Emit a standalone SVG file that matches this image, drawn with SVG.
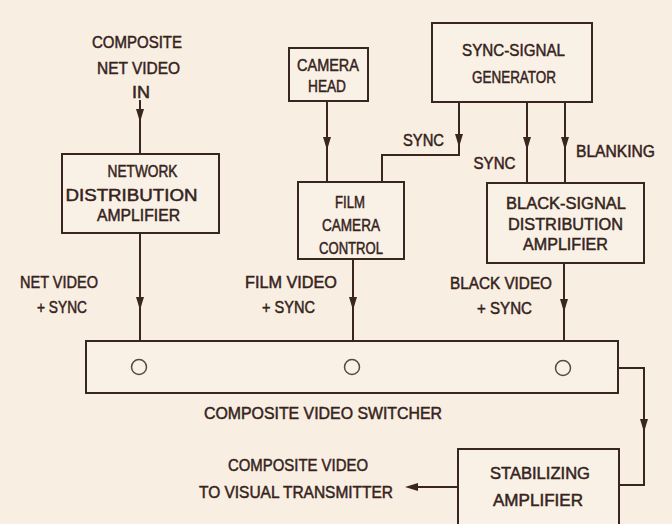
<svg xmlns="http://www.w3.org/2000/svg" xmlns:xlink="http://www.w3.org/1999/xlink" width="672" height="524" viewBox="0 0 672 524">
<style>
.bg{fill:#f9eee2}
.box{fill:#faf1e6;stroke:#3a2620;stroke-width:2}
.ln{fill:none;stroke:#3a2620;stroke-width:2}
.ah{fill:#3a2620}
.sw{fill:none;stroke:#5a463e;stroke-width:1.5}
text{font-family:"Liberation Sans",Arial,sans-serif;font-size:17px;fill:#35231c;stroke:#35231c;stroke-width:0.5;text-anchor:middle}
</style>
<defs>
<path id="ah" class="ah" d="M-4,-13 L4,-13 L0,0 Z"/>
</defs>
<rect class="bg" x="0" y="0" width="672" height="524"/>

<g id="connectors">
<path class="ln" d="M140,100 V154"/>
<use xlink:href="#ah" x="140" y="122"/>
<path class="ln" d="M140,233 V341"/>
<use xlink:href="#ah" x="140" y="310"/>
<path class="ln" d="M327,101 V182"/>
<use xlink:href="#ah" x="327" y="150"/>
<path class="ln" d="M459,102 V155 H382 V182"/>
<use xlink:href="#ah" x="459" y="147"/>
<path class="ln" d="M527,102 V183"/>
<use xlink:href="#ah" x="527" y="150"/>
<path class="ln" d="M565,102 V183"/>
<use xlink:href="#ah" x="565" y="150"/>
<path class="ln" d="M353,259 V341"/>
<use xlink:href="#ah" x="353" y="310"/>
<path class="ln" d="M564,263 V341"/>
<use xlink:href="#ah" x="564" y="312"/>
<path class="ln" d="M618,368 H644 V485 H619"/>
<use xlink:href="#ah" x="644" y="432"/>
<path class="ln" d="M458,487 H412"/>
<use xlink:href="#ah" transform="translate(405,487) rotate(90)"/>
</g>

<g id="input-label">
<text x="137" y="48" textLength="90" lengthAdjust="spacingAndGlyphs">COMPOSITE</text>
<text x="138.5" y="74" textLength="83" lengthAdjust="spacingAndGlyphs">NET VIDEO</text>
<text x="141" y="98" textLength="18" lengthAdjust="spacingAndGlyphs">IN</text>
</g>

<g id="network-da">
<rect class="box" x="62" y="154" width="157" height="79"/>
<text x="142.5" y="177" textLength="70" lengthAdjust="spacingAndGlyphs">NETWORK</text>
<text x="131.5" y="201" textLength="132" lengthAdjust="spacingAndGlyphs">DISTRIBUTION</text>
<text x="138.5" y="221" textLength="83" lengthAdjust="spacingAndGlyphs">AMPLIFIER</text>
</g>

<g id="camera-head">
<rect class="box" x="289" y="48" width="79" height="53"/>
<text x="328" y="71" textLength="62" lengthAdjust="spacingAndGlyphs">CAMERA</text>
<text x="327" y="92" textLength="38" lengthAdjust="spacingAndGlyphs">HEAD</text>
</g>

<g id="sync-generator">
<rect class="box" x="432" y="23" width="160" height="79"/>
<text x="513.5" y="56" textLength="103" lengthAdjust="spacingAndGlyphs">SYNC-SIGNAL</text>
<text x="514" y="83" textLength="84" lengthAdjust="spacingAndGlyphs">GENERATOR</text>
</g>

<g id="film-camera-control">
<rect class="box" x="298" y="182" width="106" height="77"/>
<text x="350" y="208" textLength="30" lengthAdjust="spacingAndGlyphs">FILM</text>
<text x="351" y="231" textLength="58" lengthAdjust="spacingAndGlyphs">CAMERA</text>
<text x="351" y="254" textLength="64" lengthAdjust="spacingAndGlyphs">CONTROL</text>
</g>

<g id="black-signal-da">
<rect class="box" x="487" y="183" width="157" height="80"/>
<text x="566" y="209" textLength="120" lengthAdjust="spacingAndGlyphs">BLACK-SIGNAL</text>
<text x="565.5" y="230" textLength="115" lengthAdjust="spacingAndGlyphs">DISTRIBUTION</text>
<text x="565.5" y="250" textLength="85" lengthAdjust="spacingAndGlyphs">AMPLIFIER</text>
</g>

<g id="signal-labels">
<text x="423.5" y="146" textLength="41" lengthAdjust="spacingAndGlyphs">SYNC</text>
<text x="494.5" y="169" textLength="42" lengthAdjust="spacingAndGlyphs">SYNC</text>
<text x="615.5" y="157" textLength="79" lengthAdjust="spacingAndGlyphs">BLANKING</text>
<text x="59" y="288" textLength="78" lengthAdjust="spacingAndGlyphs">NET VIDEO</text>
<text x="62" y="313" textLength="50" lengthAdjust="spacingAndGlyphs">+ SYNC</text>
<text x="291" y="288" textLength="92" lengthAdjust="spacingAndGlyphs">FILM VIDEO</text>
<text x="288.5" y="313" textLength="53" lengthAdjust="spacingAndGlyphs">+ SYNC</text>
<text x="501" y="289" textLength="102" lengthAdjust="spacingAndGlyphs">BLACK VIDEO</text>
<text x="504.5" y="314" textLength="55" lengthAdjust="spacingAndGlyphs">+ SYNC</text>
</g>

<g id="video-switcher">
<rect class="box" x="86" y="341" width="532" height="52"/>
<circle class="sw" cx="139" cy="367" r="7.5"/>
<circle class="sw" cx="352" cy="367" r="7.5"/>
<circle class="sw" cx="563" cy="368" r="7.5"/>
<text x="323" y="419" textLength="238" lengthAdjust="spacingAndGlyphs">COMPOSITE  VIDEO SWITCHER</text>
</g>

<g id="stabilizing-amplifier">
<rect class="box" x="458" y="449" width="161" height="85"/>
<text x="540" y="479" textLength="100" lengthAdjust="spacingAndGlyphs">STABILIZING</text>
<text x="538" y="506" textLength="90" lengthAdjust="spacingAndGlyphs">AMPLIFIER</text>
</g>

<g id="output-label">
<text x="298" y="471" textLength="140" lengthAdjust="spacingAndGlyphs">COMPOSITE VIDEO</text>
<text x="296" y="498" textLength="194" lengthAdjust="spacingAndGlyphs">TO VISUAL TRANSMITTER</text>
</g>
</svg>
